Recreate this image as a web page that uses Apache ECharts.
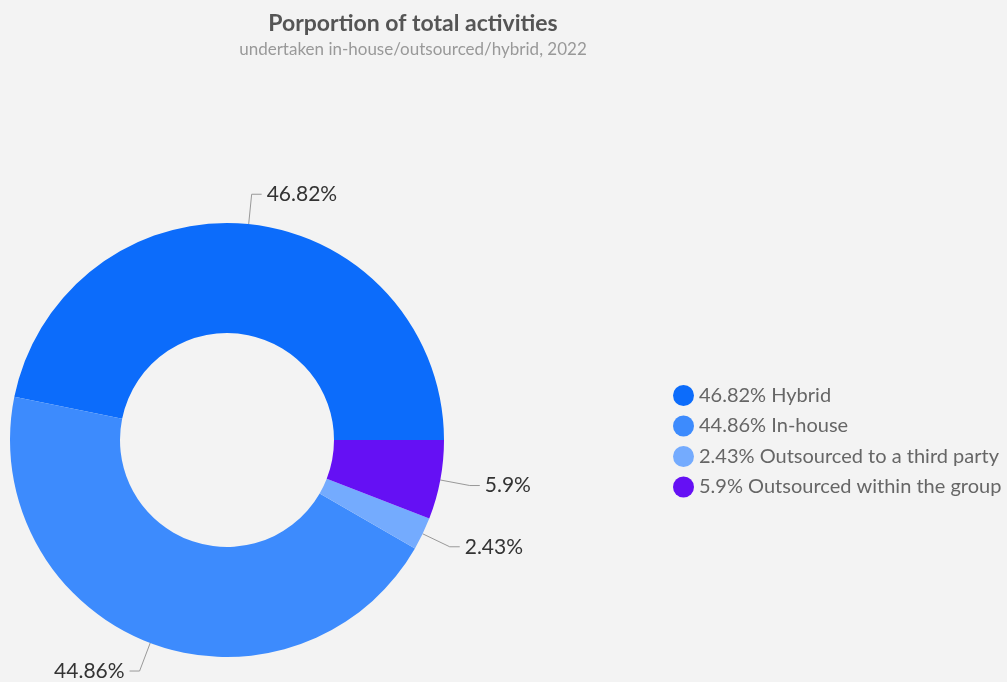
<!DOCTYPE html>
<html>
<head>
<meta charset="utf-8">
<script src="https://cdn.jsdelivr.net/npm/echarts@6/dist/echarts.min.js"></script>
<style>
  html, body { margin: 0; padding: 0; background: #f3f3f3; }
  #chart { width: 1007px; height: 682px; }
</style>
</head>
<body>
<div id="chart"></div>
<script>
// Share of activities by sourcing mode, 2022
const categories = ['Hybrid', 'In-house', 'Outsourced to a third party', 'Outsourced within the group'];
const shares = [46.82, 44.86, 2.43, 5.9];
const colors = ['#0c6cfb', '#3d8bfd', '#74abfe', '#6510f4'];

const pieData = categories.map((name, i) => ({
  name: name,
  value: shares[i],
  itemStyle: { color: colors[i] }
}));

const chart = echarts.init(document.getElementById('chart'));
chart.setOption({
  backgroundColor: '#f3f3f3',
  animation: false,
  title: {
    text: 'Porportion of total activities',
    subtext: 'undertaken in-house/outsourced/hybrid, 2022',
    left: 408,
    top: 7,
    textAlign: 'center',
    itemGap: 6,
    textStyle: { fontFamily: 'Lato', fontSize: 23, fontWeight: 'bold', color: '#555555' },
    subtextStyle: { fontFamily: 'Lato', fontSize: 17, color: '#999999' }
  },
  legend: {
    orient: 'vertical',
    left: 668,
    top: 380,
    icon: 'circle',
    itemWidth: 21,
    itemHeight: 21,
    itemGap: 9.5,
    data: categories,
    formatter: function (name) {
      const i = categories.indexOf(name);
      return shares[i] + '% ' + name;
    },
    textStyle: { fontFamily: 'Lato', fontSize: 20, color: '#666666' }
  },
  series: [{
    type: 'pie',
    center: [227, 440],
    radius: [107, 217],
    startAngle: 0,
    clockwise: false,
    data: pieData,
    label: {
      show: true,
      formatter: function (p) { return p.value + '%'; },
      fontFamily: 'Lato',
      fontSize: 21,
      color: '#333333'
    },
    labelLine: {
      show: true,
      length: 30,
      length2: 10,
      lineStyle: { color: '#999999', width: 1 }
    }
  }]
});
</script>
</body>
</html>
